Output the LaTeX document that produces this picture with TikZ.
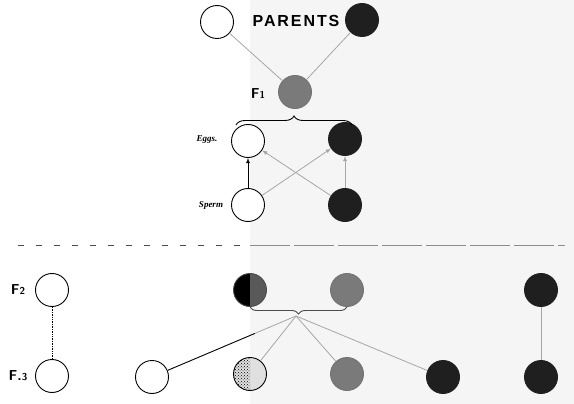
\documentclass[tikz,border=0pt]{standalone}
\usepackage{fontspec}
\setmainfont{Liberation Serif}
\newfontfamily\capsfont[LetterSpace=12]{Liberation Sans}
\usetikzlibrary{decorations.pathreplacing,patterns}

\tikzset{
  ball/.style={circle,draw,line width=0.9pt,minimum size=33pt,inner sep=0pt},
  whiteball/.style={ball,fill=white},
  blackball/.style={ball,fill=black!88,draw=black!88},
  grayball/.style={ball,fill=black!52,draw=black!55},
  halfball/.style={ball,draw=black!70,fill=black!65,
    path picture={\fill[black] (path picture bounding box.north west) rectangle (path picture bounding box.south);}},
  speckball/.style={ball,draw=black,fill=black!12,
    path picture={\fill[pattern=crosshatch dots] (path picture bounding box.north west) rectangle (path picture bounding box.south);}},
  faint/.style={draw=black!35,line width=0.8pt},
  genlabel/.style={font=\sffamily\bfseries\Large},
  celllabel/.style={font=\bfseries\itshape\small}
}

\begin{document}
\begin{tikzpicture}[x=1pt,y=-1pt]
\useasboundingbox (0,0) rectangle (574,404);
\fill[black!4] (250,0) rectangle (574,404);

% parents
\node [whiteball] (pw) at (217,22) {};
\node [blackball] (pb) at (362,20) {};
\node [font=\capsfont\bfseries\fontsize{16}{16}\selectfont] (parents) at (296,21) {PARENTS};

% first generation
\node [grayball] (fone) at (295,92) {};
\node [genlabel] (fonelabel) at (258,94) {F{\normalsize 1}};
\draw [faint] (pw) -- (fone);
\draw [faint] (pb) -- (fone);

% eggs and sperm
\node [whiteball] (ew) at (248,141) {};
\node [blackball] (eb) at (345,139) {};
\node [whiteball] (sw) at (248,205) {};
\node [blackball] (sb) at (345,205) {};
\node [celllabel] (eggs) at (207,140) {Eggs.};
\node [celllabel] (sperm) at (211,205) {Sperm};

\coordinate (bracel) at (236,125);
\coordinate (bracer) at (352,125);
\draw [line width=0.9pt,decorate,decoration={brace,amplitude=9pt}] (bracel) -- (bracer);

\draw [>=latex,->,line width=0.8pt] (sw) -- (ew);
\draw [>=latex,->,faint] (sb) -- (ew);
\draw [>=latex,->,faint] (sw) -- (eb);
\draw [>=latex,->,faint] (sb) -- (eb);

% separator
\draw [black!70,line width=0.6pt,dash pattern=on 6pt off 12pt] (18,245) -- (250,245);
\draw [black!45,line width=0.8pt,dash pattern=on 40pt off 4pt] (250,245) -- (565,245);

% second generation
\node [genlabel] (ftwolabel) at (18,290) {F{\normalsize 2}};
\node [whiteball] (w2) at (52,290) {};
\node [halfball] (h2) at (250,290) {};
\node [grayball] (g2) at (347,290) {};
\node [blackball] (b2) at (541,290) {};

\coordinate (bracebl) at (250,307);
\coordinate (bracebr) at (347,307);
\draw [line width=0.9pt,black!70,decorate,decoration={brace,amplitude=7pt}] (bracebr) -- (bracebl);
\coordinate (tip) at (296,316);

% third generation
\node [genlabel] (fthreelabel) at (18,376) {F.{\normalsize 3}};
\node [whiteball] (w3) at (52,376) {};
\node [whiteball] (v3) at (152,377) {};
\node [speckball] (s3) at (250,374) {};
\node [grayball] (g3) at (347,374) {};
\node [blackball] (b3) at (443,377) {};
\node [blackball] (k3) at (541,377) {};

\draw [line width=0.7pt,densely dotted] (w2) -- (w3);
\draw [faint] (tip) -- coordinate[pos=0.32] (cut) (v3);
\draw [line width=0.8pt] (cut) -- (v3);
\draw [faint] (tip) -- (s3);
\draw [faint] (tip) -- (g3);
\draw [faint] (tip) -- (b3);
\draw [faint] (b2) -- (k3);
\end{tikzpicture}
\end{document}
